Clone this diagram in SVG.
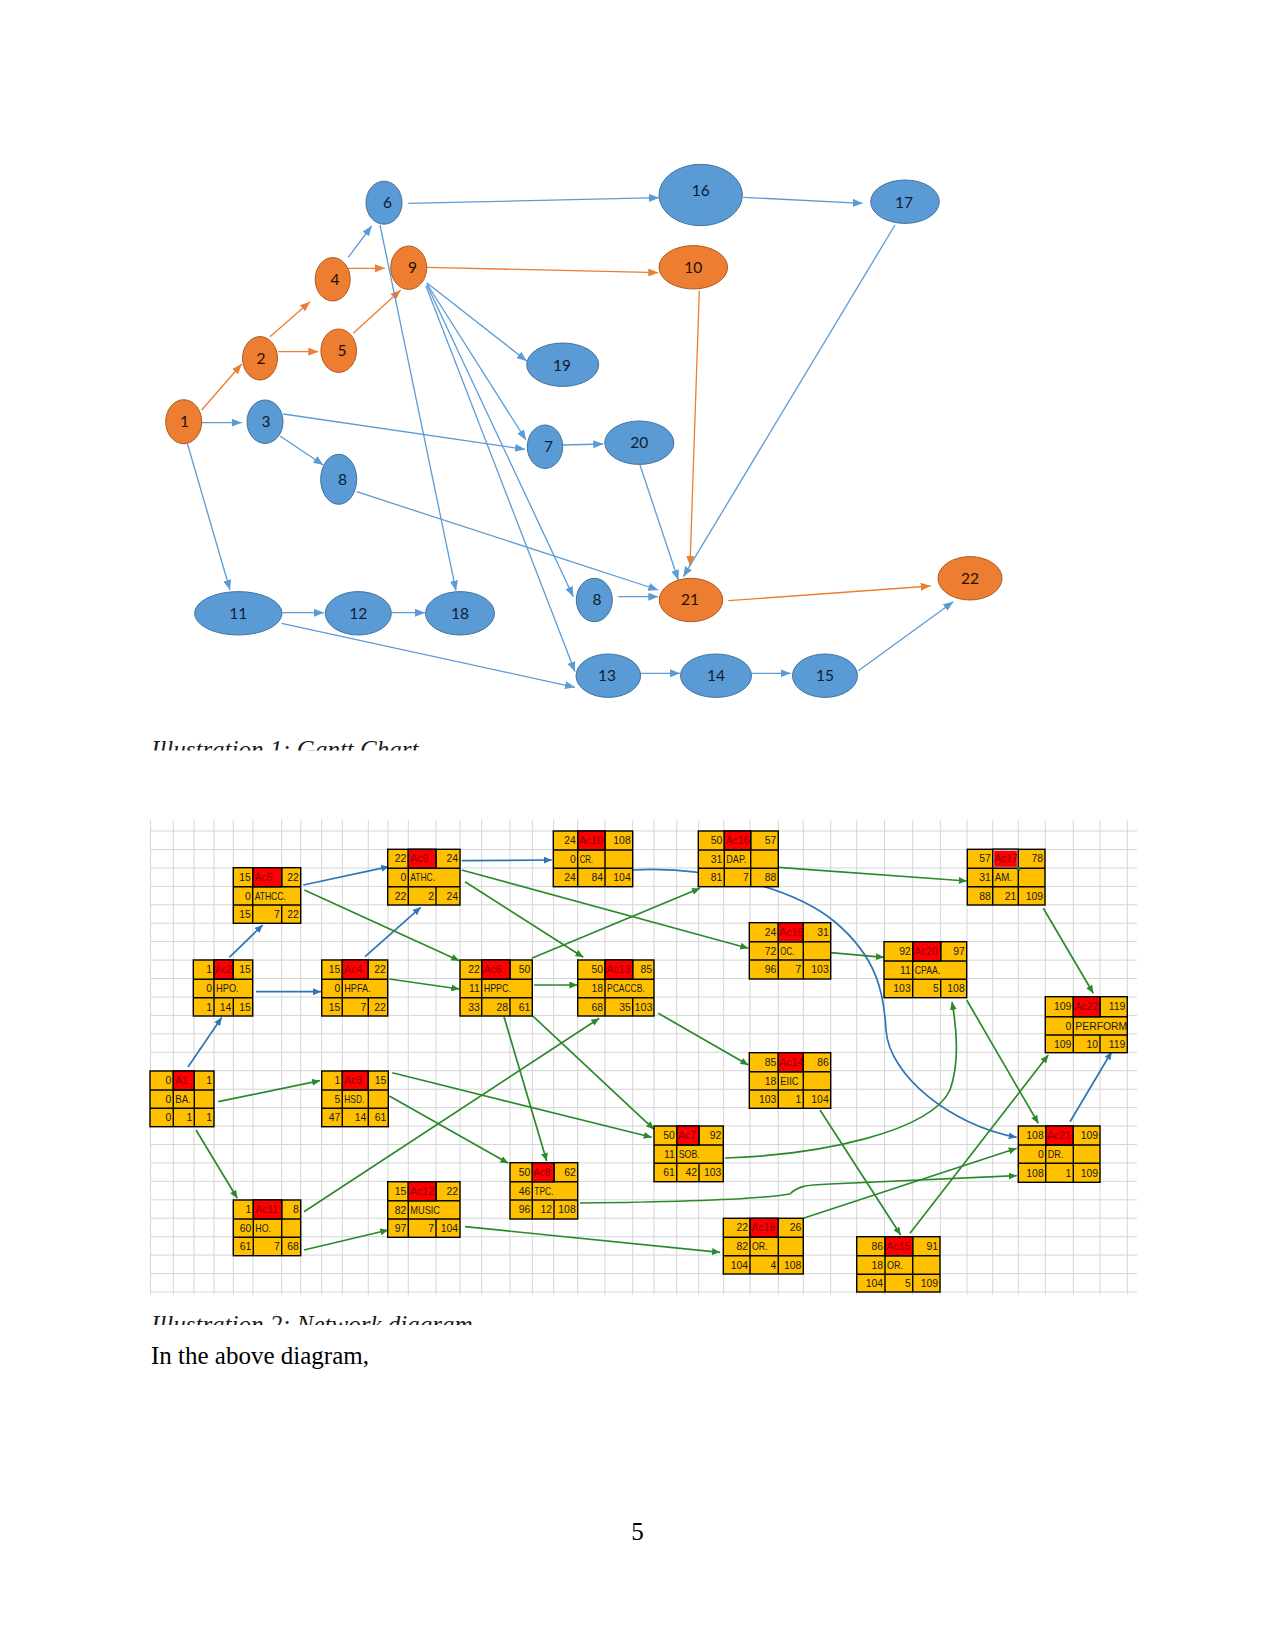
<svg xmlns="http://www.w3.org/2000/svg" width="1275" height="1651" viewBox="0 0 1275 1651">
<style>
.nb{fill:#5B9BD5;stroke:#41719C;stroke-width:1}
.no{fill:#ED7D31;stroke:#AE5A21;stroke-width:1}
.lb{font-family:Lato,"Liberation Sans",sans-serif;font-size:15.5px;text-anchor:middle;fill:#0e1c33}
.lo{font-family:Lato,"Liberation Sans",sans-serif;font-size:15.5px;text-anchor:middle;fill:#261003}
.eb{stroke:#5B9BD5;stroke-width:1.3;fill:none;marker-end:url(#ab)}
.eo{stroke:#ED7D31;stroke-width:1.3;fill:none;marker-end:url(#ao)}
.cg{stroke:#2A8A2A;stroke-width:1.7;fill:none;marker-end:url(#mg)}
.cb{stroke:#2E75B6;stroke-width:1.7;fill:none;marker-end:url(#mb)}
.bx{fill:#FFC000;stroke:#000;stroke-width:1.4}
.rd{fill:#FF0000;stroke:#000;stroke-width:1.4}
.gl{stroke:#000;stroke-width:1.4;fill:none}
.t{font-family:"Liberation Sans",Arial,sans-serif;font-size:10.4px;fill:#1a1a1a}
.r{text-anchor:end}
.a{fill:#8B0000}
.grid{stroke:#d6d6d6;stroke-width:1;fill:none}
.cap{font-family:"Liberation Serif","Times New Roman",serif;font-style:italic;font-size:25px;fill:#1a1a1a}
.body{font-family:"Liberation Serif","Times New Roman",serif;font-size:25px;fill:#000}
</style>
<defs>
<marker id="ab" markerUnits="userSpaceOnUse" markerWidth="10" markerHeight="8" refX="10" refY="4" orient="auto"><path d="M0,0L10,4L0,8z" fill="#5B9BD5"/></marker>
<marker id="ao" markerUnits="userSpaceOnUse" markerWidth="10" markerHeight="8" refX="10" refY="4" orient="auto"><path d="M0,0L10,4L0,8z" fill="#ED7D31"/></marker>
<marker id="mg" markerUnits="userSpaceOnUse" markerWidth="8" markerHeight="7" refX="8" refY="3.5" orient="auto"><path d="M0,0L8,3.5L0,7z" fill="#2A8A2A"/></marker>
<marker id="mb" markerUnits="userSpaceOnUse" markerWidth="8" markerHeight="7" refX="8" refY="3.5" orient="auto"><path d="M0,0L8,3.5L0,7z" fill="#2E75B6"/></marker>
<clipPath id="c1"><rect x="140" y="730" width="400" height="20.5"/></clipPath>
<clipPath id="c2"><rect x="140" y="1305" width="400" height="20"/></clipPath>
<clipPath id="cgrid"><rect x="150" y="820" width="987" height="475"/></clipPath>
</defs>
<rect width="1275" height="1651" fill="#fff"/>

<!-- ===== Illustration 1 ===== -->
<g id="top-connectors">
<path class="eo" d="M201.7,410L241.7,364"/>
<path class="eo" d="M270,336.7L310,301.7"/>
<path class="eo" d="M278.3,351.7L318.3,351.7"/>
<path class="eo" d="M348.3,268.3L385,268.3"/>
<path class="eo" d="M353.3,333.3L400.7,290"/>
<path class="eo" d="M426.7,267.3L658.3,272.7"/>
<path class="eo" d="M699.3,290.7L690,566"/>
<path class="eo" d="M728.3,600.7L930.7,586"/>
<path class="eb" d="M201.7,422.7L241.7,422.7"/>
<path class="eb" d="M348.3,257.3L371.7,226"/>
<path class="eb" d="M408.3,203.3L659,197.7"/>
<path class="eb" d="M743.3,197.3L862.7,203.3"/>
<path class="eb" d="M895,225L683.3,576.7"/>
<path class="eb" d="M380,225L456,590.7"/>
<path class="eb" d="M283.3,414L525,449.3"/>
<path class="eb" d="M280,436L323.3,465"/>
<path class="eb" d="M426.7,282.7L526.7,361"/>
<path class="eb" d="M427,284L526,440"/>
<path class="eb" d="M427,285L573.3,596.7"/>
<path class="eb" d="M426,286L575,671.7"/>
<path class="eb" d="M562.7,445L603.3,444"/>
<path class="eb" d="M640,465L678.3,580"/>
<path class="eb" d="M356.7,491.7L658.3,590"/>
<path class="eb" d="M618.3,596.7L658.3,596.7"/>
<path class="eb" d="M187.3,443.3L230,590"/>
<path class="eb" d="M282.3,612.7L324,612.7"/>
<path class="eb" d="M391.7,612.7L425,612.7"/>
<path class="eb" d="M281.7,623.3L575,687.3"/>
<path class="eb" d="M640.7,673.3L680,673.3"/>
<path class="eb" d="M751.7,673.3L790.7,673.3"/>
<path class="eb" d="M858.3,670.7L953.3,601.7"/>
</g>
<g id="n1"><ellipse class="no" cx="183.7" cy="421.7" rx="18" ry="22"/><text class="lo" x="184.5" y="427">1</text></g>
<g id="n2"><ellipse class="no" cx="260" cy="358.3" rx="17.5" ry="21.7"/><text class="lo" x="261" y="363.6">2</text></g>
<g id="n3"><ellipse class="nb" cx="265" cy="421.7" rx="18" ry="21.7"/><text class="lb" x="266" y="427">3</text></g>
<g id="n4"><ellipse class="no" cx="332.7" cy="279.3" rx="17.5" ry="21.7"/><text class="lo" x="335" y="284.6">4</text></g>
<g id="n5"><ellipse class="no" cx="338.7" cy="350.7" rx="17.8" ry="21.7"/><text class="lo" x="342" y="356">5</text></g>
<g id="n6"><ellipse class="nb" cx="384" cy="202.7" rx="18" ry="21.5"/><text class="lb" x="387.5" y="208">6</text></g>
<g id="n9"><ellipse class="no" cx="408.7" cy="267.7" rx="18" ry="21.7"/><text class="lo" x="412.5" y="273">9</text></g>
<g id="n19"><ellipse class="nb" cx="562.7" cy="364.7" rx="36" ry="21.7"/><text class="lb" x="562" y="370.5">19</text></g>
<g id="n7"><ellipse class="nb" cx="545" cy="446.7" rx="17.7" ry="21.7"/><text class="lb" x="548.5" y="452">7</text></g>
<g id="n8a"><ellipse class="nb" cx="338.7" cy="479.3" rx="18" ry="25"/><text class="lb" x="342.5" y="484.6">8</text></g>
<g id="n16"><ellipse class="nb" cx="700.7" cy="195" rx="41.7" ry="30.7"/><text class="lb" x="700.7" y="195.5">16</text></g>
<g id="n17"><ellipse class="nb" cx="905" cy="201.7" rx="34.3" ry="21.7"/><text class="lb" x="904" y="208">17</text></g>
<g id="n10"><ellipse class="no" cx="693.3" cy="267.3" rx="34.3" ry="21.7"/><text class="lo" x="693.3" y="272.6">10</text></g>
<g id="n20"><ellipse class="nb" cx="639.3" cy="442.7" rx="34.5" ry="21.7"/><text class="lb" x="639.3" y="448">20</text></g>
<g id="n11"><ellipse class="nb" cx="238.3" cy="613.3" rx="43.7" ry="21.7"/><text class="lb" x="238.3" y="618.6">11</text></g>
<g id="n12"><ellipse class="nb" cx="358.3" cy="613.3" rx="33" ry="21.7"/><text class="lb" x="358.3" y="618.6">12</text></g>
<g id="n18"><ellipse class="nb" cx="460" cy="613.3" rx="34.5" ry="21.7"/><text class="lb" x="460" y="618.6">18</text></g>
<g id="n8b"><ellipse class="nb" cx="594.3" cy="600" rx="18" ry="21.7"/><text class="lb" x="597" y="605.3">8</text></g>
<g id="n21"><ellipse class="no" cx="691" cy="600" rx="31.7" ry="21.7"/><text class="lo" x="690" y="605.3">21</text></g>
<g id="n22"><ellipse class="no" cx="970" cy="578.3" rx="32" ry="21.7"/><text class="lo" x="970" y="583.6">22</text></g>
<g id="n13"><ellipse class="nb" cx="608.3" cy="675.7" rx="32.3" ry="21.7"/><text class="lb" x="607" y="681">13</text></g>
<g id="n14"><ellipse class="nb" cx="716" cy="675.7" rx="35.5" ry="21.7"/><text class="lb" x="716" y="681">14</text></g>
<g id="n15"><ellipse class="nb" cx="825" cy="675.7" rx="32.5" ry="21.7"/><text class="lb" x="825" y="681">15</text></g>

<text class="cap" x="151" y="758" clip-path="url(#c1)">Illustration 1: Gantt Chart</text>

<!-- ===== Illustration 2 ===== -->
<g id="grid" clip-path="url(#cgrid)">
<path class="grid" d="M150.5,820V1295M173.3,820V1295M194,820V1295M214,820V1295M233.3,820V1295M253,820V1295M281.7,820V1295M300.7,820V1295M321.7,820V1295M342.3,820V1295M368.3,820V1295M388,820V1295M408.3,820V1295M436,820V1295M460,820V1295M481.7,820V1295M510,820V1295M532.3,820V1295M553.7,820V1295M577.7,820V1295M605,820V1295M632.7,820V1295M654,820V1295M676.7,820V1295M698.7,820V1295M723.7,820V1295M750,820V1295M778.3,820V1295M803.3,820V1295M830.7,820V1295M856.7,820V1295M884.5,820V1295M912.7,820V1295M940.3,820V1295M967,820V1295M992.7,820V1295M1018.3,820V1295M1045.3,820V1295M1073.3,820V1295M1100,820V1295M1127.3,820V1295"/>
<path class="grid" d="M150,831H1137M150,849.5H1137M150,867.9H1137M150,886.3H1137M150,904.8H1137M150,923.2H1137M150,941.6H1137M150,960.1H1137M150,978.5H1137M150,997H1137M150,1015.4H1137M150,1033.8H1137M150,1052.3H1137M150,1070.7H1137M150,1089.2H1137M150,1107.6H1137M150,1126H1137M150,1144.5H1137M150,1162.9H1137M150,1181.4H1137M150,1199.8H1137M150,1218.2H1137M150,1236.7H1137M150,1255.1H1137M150,1273.6H1137M150,1292H1137"/>
</g>

<g id="bottom-connectors">
<path class="cb" d="M188,1067L221.7,1017.5"/>
<path class="cb" d="M229.3,957.3L262.7,925"/>
<path class="cb" d="M256,991.7L321,991.7"/>
<path class="cb" d="M365,956.7L420.7,907.3"/>
<path class="cb" d="M303.3,885L389,866.7"/>
<path class="cb" d="M461.7,860.7L551.7,860"/>
<path class="cb" d="M633,870C700,866 790,885 835,922C878,958 884,995 886,1030C889,1075 950,1125 1016.7,1137.3"/>
<path class="cb" d="M1070,1121.7L1111.7,1051.7"/>
<path class="cg" d="M304.3,890L459.3,960.7"/>
<path class="cg" d="M389.3,979L459.3,989"/>
<path class="cg" d="M461.7,870L748.3,948.3"/>
<path class="cg" d="M465,881.7L583.3,957.3"/>
<path class="cg" d="M531.7,958.3L700,888.3"/>
<path class="cg" d="M534,985L577.3,985"/>
<path class="cg" d="M504,1016.7L546.7,1161"/>
<path class="cg" d="M531.7,1015L654,1129.3"/>
<path class="cg" d="M304,1211.7L599.3,1018.3"/>
<path class="cg" d="M658.3,1013.3L748.3,1065"/>
<path class="cg" d="M778.3,867.3L966.7,881"/>
<path class="cg" d="M830.7,952.7L884,957.3"/>
<path class="cg" d="M1043.3,908.3L1093.3,993.3"/>
<path class="cg" d="M966.7,1000L1038.3,1123.3"/>
<path class="cg" d="M725,1158C820,1155 930,1132 950,1090C960,1062 957,1030 952,1002"/>
<path class="cg" d="M580,1203C680,1202 760,1199 790,1194C798,1186 805,1185 830,1184L1016.7,1175.7"/>
<path class="cg" d="M803.3,1218.3L1016.7,1148.3"/>
<path class="cg" d="M910,1233.3L1048.3,1055"/>
<path class="cg" d="M820,1110L900.7,1235"/>
<path class="cg" d="M218.3,1101.7L320,1080.7"/>
<path class="cg" d="M196,1130L237.3,1198.3"/>
<path class="cg" d="M304,1250L388.3,1230"/>
<path class="cg" d="M392.3,1072.7L651.7,1137.3"/>
<path class="cg" d="M389.3,1096L508.3,1163.3"/>
<path class="cg" d="M465,1226.7L720,1252.3"/>
</g>

<g id="a1">
<rect class="bx" x="150" y="1071" width="64" height="55.7"/><rect class="rd" x="173.3" y="1071" width="21" height="19"/>
<path class="gl" d="M150,1090H214M150,1108.3H214M173.3,1071V1126.7M194.3,1071V1126.7"/>
<text class="t r" x="171.3" y="1084">0</text><text class="t a" x="175.3" y="1084">A1</text><text class="t r" x="212" y="1084">1</text>
<text class="t r" x="171.3" y="1103">0</text><text class="t" x="175.3" y="1103" textLength="15.7" lengthAdjust="spacingAndGlyphs">BA.</text>
<text class="t r" x="171.3" y="1121.3">0</text><text class="t r" x="192.3" y="1121.3">1</text><text class="t r" x="212" y="1121.3">1</text>
</g>
<g id="ac2">
<rect class="bx" x="193.3" y="960" width="59.4" height="56"/><rect class="rd" x="214" y="960" width="19.3" height="19.3"/>
<path class="gl" d="M193.3,979.3H252.7M193.3,997.7H252.7M214,960V1016M233.3,960V979.3M233.3,997.7V1016"/>
<text class="t r" x="212" y="973">1</text><text class="t a" x="215.5" y="973" textLength="16" lengthAdjust="spacingAndGlyphs">Ac2</text><text class="t r" x="250.7" y="973">15</text>
<text class="t r" x="212" y="992.3">0</text><text class="t" x="216" y="992.3" textLength="22.7" lengthAdjust="spacingAndGlyphs">HPO.</text>
<text class="t r" x="212" y="1010.7">1</text><text class="t r" x="231.3" y="1010.7">14</text><text class="t r" x="250.7" y="1010.7">15</text>
</g>
<g id="ac5">
<rect class="bx" x="233.3" y="867.7" width="67.4" height="55.6"/><rect class="rd" x="252.7" y="867.7" width="29" height="19"/>
<path class="gl" d="M233.3,886.7H300.7M233.3,905H300.7M252.7,867.7V923.3M281.7,867.7V886.7M281.7,905V923.3"/>
<text class="t r" x="250.7" y="880.7">15</text><text class="t a" x="254.7" y="880.7">Ac5</text><text class="t r" x="298.7" y="880.7">22</text>
<text class="t r" x="250.7" y="899.7">0</text><text class="t" x="254.7" y="899.7" textLength="31" lengthAdjust="spacingAndGlyphs">ATHCC.</text>
<text class="t r" x="250.7" y="918">15</text><text class="t r" x="279.7" y="918">7</text><text class="t r" x="298.7" y="918">22</text>
</g>
<g id="ac4">
<rect class="bx" x="321.7" y="960" width="66" height="56"/><rect class="rd" x="342.3" y="960" width="26" height="19.3"/>
<path class="gl" d="M321.7,979.3H387.7M321.7,997.7H387.7M342.3,960V1016M368.3,960V979.3M368.3,997.7V1016"/>
<text class="t r" x="340.3" y="973">15</text><text class="t a" x="344.3" y="973">Ac4</text><text class="t r" x="385.7" y="973">22</text>
<text class="t r" x="340.3" y="992.3">0</text><text class="t" x="344.3" y="992.3" textLength="26.3" lengthAdjust="spacingAndGlyphs">HPFA.</text>
<text class="t r" x="340.3" y="1010.7">15</text><text class="t r" x="366.3" y="1010.7">7</text><text class="t r" x="385.7" y="1010.7">22</text>
</g>
<g id="ac9">
<rect class="bx" x="387.7" y="849.3" width="72.3" height="55.7"/><rect class="rd" x="408.3" y="849.3" width="27.7" height="19"/>
<path class="gl" d="M387.7,868.3H460M387.7,886.7H460M408.3,849.3V905M436,849.3V868.3M436,886.7V905"/>
<text class="t r" x="406.3" y="862.3">22</text><text class="t a" x="410.3" y="862.3">Ac9</text><text class="t r" x="458" y="862.3">24</text>
<text class="t r" x="406.3" y="881.3">0</text><text class="t" x="410.3" y="881.3" textLength="24.7" lengthAdjust="spacingAndGlyphs">ATHC.</text>
<text class="t r" x="406.3" y="899.7">22</text><text class="t r" x="434" y="899.7">2</text><text class="t r" x="458" y="899.7">24</text>
</g>
<g id="ac3">
<rect class="bx" x="321.7" y="1071" width="66.6" height="55.7"/><rect class="rd" x="342.3" y="1071" width="26" height="19"/>
<path class="gl" d="M321.7,1090H388.3M321.7,1108.3H388.3M342.3,1071V1126.7M368.3,1071V1126.7"/>
<text class="t r" x="340.3" y="1084">1</text><text class="t a" x="344.3" y="1084">Ac3</text><text class="t r" x="386.3" y="1084">15</text>
<text class="t r" x="340.3" y="1103">5</text><text class="t" x="344.3" y="1103" textLength="20" lengthAdjust="spacingAndGlyphs">HSD.</text>
<text class="t r" x="340.3" y="1121.3">47</text><text class="t r" x="366.3" y="1121.3">14</text><text class="t r" x="386.3" y="1121.3">61</text>
</g>
<g id="ac11">
<rect class="bx" x="233.3" y="1200" width="67.4" height="55.7"/><rect class="rd" x="253.3" y="1200" width="28.4" height="19"/>
<path class="gl" d="M233.3,1219H300.7M233.3,1237.3H300.7M253.3,1200V1255.7M281.7,1200V1255.7"/>
<text class="t r" x="251.3" y="1213">1</text><text class="t a" x="255.3" y="1213">Ac11</text><text class="t r" x="298.7" y="1213">8</text>
<text class="t r" x="251.3" y="1232">60</text><text class="t" x="255.3" y="1232" textLength="15.7" lengthAdjust="spacingAndGlyphs">HO.</text>
<text class="t r" x="251.3" y="1250.3">61</text><text class="t r" x="279.7" y="1250.3">7</text><text class="t r" x="298.7" y="1250.3">68</text>
</g>
<g id="ac12">
<rect class="bx" x="387.7" y="1181.7" width="72.3" height="55.6"/><rect class="rd" x="408.3" y="1181.7" width="27.7" height="19"/>
<path class="gl" d="M387.7,1200.7H460M387.7,1219H460M408.3,1181.7V1237.3M436,1181.7V1200.7M436,1219V1237.3"/>
<text class="t r" x="406.3" y="1194.7">15</text><text class="t a" x="410.3" y="1194.7">Ac12</text><text class="t r" x="458" y="1194.7">22</text>
<text class="t r" x="406.3" y="1213.7">82</text><text class="t" x="410.3" y="1213.7" textLength="29.7" lengthAdjust="spacingAndGlyphs">MUSIC</text>
<text class="t r" x="406.3" y="1232">97</text><text class="t r" x="434" y="1232">7</text><text class="t r" x="458" y="1232">104</text>
</g>
<g id="ac6">
<rect class="bx" x="460" y="960" width="72.3" height="56"/><rect class="rd" x="481.7" y="960" width="28.3" height="19.3"/>
<path class="gl" d="M460,979.3H532.3M460,997.7H532.3M481.7,960V1016M510,960V979.3M510,997.7V1016"/>
<text class="t r" x="479.7" y="973">22</text><text class="t a" x="483.7" y="973">Ac6</text><text class="t r" x="530.3" y="973">50</text>
<text class="t r" x="479.7" y="992.3">11</text><text class="t" x="483.7" y="992.3" textLength="27.3" lengthAdjust="spacingAndGlyphs">HPPC.</text>
<text class="t r" x="479.7" y="1010.7">33</text><text class="t r" x="508" y="1010.7">28</text><text class="t r" x="530.3" y="1010.7">61</text>
</g>
<g id="ac10">
<rect class="bx" x="553.3" y="831" width="79.4" height="55.7"/><rect class="rd" x="577.7" y="831" width="27.3" height="19"/>
<path class="gl" d="M553.3,850H632.7M553.3,868.3H632.7M577.7,831V886.7M605,831V886.7"/>
<text class="t r" x="575.7" y="844">24</text><text class="t a" x="579" y="844">Ac10</text><text class="t r" x="630.7" y="844">108</text>
<text class="t r" x="575.7" y="863">0</text><text class="t" x="579.7" y="863" textLength="13.3" lengthAdjust="spacingAndGlyphs">CR.</text>
<text class="t r" x="575.7" y="881.3">24</text><text class="t r" x="603" y="881.3">84</text><text class="t r" x="630.7" y="881.3">104</text>
</g>
<g id="ac13">
<rect class="bx" x="577.7" y="960" width="76.3" height="56"/><rect class="rd" x="605" y="960" width="27.7" height="19.3"/>
<path class="gl" d="M577.7,979.3H654M577.7,997.7H654M605,960V1016M632.7,960V979.3M632.7,997.7V1016"/>
<text class="t r" x="603" y="973">50</text><text class="t a" x="606.5" y="973">Ac13</text><text class="t r" x="652" y="973">85</text>
<text class="t r" x="603" y="992.3">18</text><text class="t" x="607" y="992.3" textLength="37.7" lengthAdjust="spacingAndGlyphs">PCACCB.</text>
<text class="t r" x="603" y="1010.7">68</text><text class="t r" x="630.7" y="1010.7">35</text><text class="t r" x="652.5" y="1010.7" textLength="18" lengthAdjust="spacingAndGlyphs">103</text>
</g>
<g id="ac8">
<rect class="bx" x="510" y="1162.7" width="67.7" height="56.3"/><rect class="rd" x="532.3" y="1162.7" width="21.7" height="19"/>
<path class="gl" d="M510,1181.7H577.7M510,1200H577.7M532.3,1162.7V1219M554,1162.7V1181.7M554,1200V1219"/>
<text class="t r" x="530.3" y="1175.7">50</text><text class="t a" x="533.5" y="1175.7" textLength="17" lengthAdjust="spacingAndGlyphs">Ac8</text><text class="t r" x="575.7" y="1175.7">62</text>
<text class="t r" x="530.3" y="1194.7">46</text><text class="t" x="534.3" y="1194.7" textLength="19" lengthAdjust="spacingAndGlyphs">TPC.</text>
<text class="t r" x="530.3" y="1213">96</text><text class="t r" x="552" y="1213">12</text><text class="t r" x="575.7" y="1213">108</text>
</g>
<g id="ac7">
<rect class="bx" x="654" y="1126" width="69.3" height="55.7"/><rect class="rd" x="676.7" y="1126" width="22.3" height="19"/>
<path class="gl" d="M654,1145H723.3M654,1163.3H723.3M676.7,1126V1181.7M699,1126V1145M699,1163.3V1181.7"/>
<text class="t r" x="674.7" y="1139">50</text><text class="t a" x="678" y="1139" textLength="18" lengthAdjust="spacingAndGlyphs">Ac7</text><text class="t r" x="721.3" y="1139">92</text>
<text class="t r" x="674.7" y="1158">11</text><text class="t" x="678.7" y="1158" textLength="21" lengthAdjust="spacingAndGlyphs">SOB.</text>
<text class="t r" x="674.7" y="1176.3">61</text><text class="t r" x="697" y="1176.3">42</text><text class="t r" x="721.3" y="1176.3">103</text>
</g>
<g id="ac16">
<rect class="bx" x="698.3" y="831" width="80" height="55.7"/><rect class="rd" x="724.3" y="831" width="26.4" height="19"/>
<path class="gl" d="M698.3,850H778.3M698.3,868.3H778.3M724.3,831V886.7M750.7,831V886.7"/>
<text class="t r" x="722.3" y="844">50</text><text class="t a" x="725.8" y="844">Ac16</text><text class="t r" x="776.3" y="844">57</text>
<text class="t r" x="722.3" y="863">31</text><text class="t" x="726.3" y="863" textLength="20" lengthAdjust="spacingAndGlyphs">DAP.</text>
<text class="t r" x="722.3" y="881.3">81</text><text class="t r" x="748.7" y="881.3">7</text><text class="t r" x="776.3" y="881.3">88</text>
</g>
<g id="ac19">
<rect class="bx" x="749.3" y="922.7" width="81.4" height="56.3"/><rect class="rd" x="778.3" y="922.7" width="25" height="19"/>
<path class="gl" d="M749.3,941.7H830.7M749.3,960H830.7M778.3,922.7V979M803.3,922.7V979"/>
<text class="t r" x="776.3" y="935.7">24</text><text class="t a" x="779.5" y="935.7">Ac19</text><text class="t r" x="828.7" y="935.7">31</text>
<text class="t r" x="776.3" y="954.7">72</text><text class="t" x="780.3" y="954.7" textLength="14" lengthAdjust="spacingAndGlyphs">OC.</text>
<text class="t r" x="776.3" y="973">96</text><text class="t r" x="801.3" y="973">7</text><text class="t r" x="828.7" y="973">103</text>
</g>
<g id="ac14">
<rect class="bx" x="749.3" y="1052.7" width="81.4" height="55.6"/><rect class="rd" x="778.3" y="1052.7" width="25" height="19"/>
<path class="gl" d="M749.3,1071.7H830.7M749.3,1090H830.7M778.3,1052.7V1108.3M803.3,1052.7V1108.3"/>
<text class="t r" x="776.3" y="1065.7">85</text><text class="t a" x="779.5" y="1065.7">Ac14</text><text class="t r" x="828.7" y="1065.7">86</text>
<text class="t r" x="776.3" y="1084.7">18</text><text class="t" x="780.3" y="1084.7" textLength="18.3" lengthAdjust="spacingAndGlyphs">EIIC</text>
<text class="t r" x="776.3" y="1103">103</text><text class="t r" x="801.3" y="1103">1</text><text class="t r" x="828.7" y="1103">104</text>
</g>
<g id="ac18">
<rect class="bx" x="723.3" y="1218.3" width="80" height="55.7"/><rect class="rd" x="750" y="1218.3" width="28.3" height="19"/>
<path class="gl" d="M723.3,1237.3H803.3M723.3,1255.7H803.3M750,1218.3V1274M778.3,1218.3V1274"/>
<text class="t r" x="748" y="1231.3">22</text><text class="t a" x="751.5" y="1231.3">Ac18</text><text class="t r" x="801.3" y="1231.3">26</text>
<text class="t r" x="748" y="1250.3">82</text><text class="t" x="752" y="1250.3" textLength="15.7" lengthAdjust="spacingAndGlyphs">OR.</text>
<text class="t r" x="748" y="1268.7">104</text><text class="t r" x="776.3" y="1268.7">4</text><text class="t r" x="801.3" y="1268.7">108</text>
</g>
<g id="ac20">
<rect class="bx" x="884" y="941.7" width="82.7" height="56"/><rect class="rd" x="912.7" y="941.7" width="28" height="19.3"/>
<path class="gl" d="M884,961H966.7M884,979.3H966.7M912.7,941.7V997.7M940.7,941.7V961M940.7,979.3V997.7"/>
<text class="t r" x="910.7" y="954.7">92</text><text class="t a" x="914.2" y="954.7">Ac20</text><text class="t r" x="964.7" y="954.7">97</text>
<text class="t r" x="910.7" y="974">11</text><text class="t" x="914.7" y="974" textLength="25.7" lengthAdjust="spacingAndGlyphs">CPAA.</text>
<text class="t r" x="910.7" y="992.3">103</text><text class="t r" x="938.7" y="992.3">5</text><text class="t r" x="964.7" y="992.3">108</text>
</g>
<g id="ac15">
<rect class="bx" x="856.7" y="1236.7" width="83.3" height="55.3"/><rect class="rd" x="885" y="1236.7" width="27.7" height="19"/>
<path class="gl" d="M856.7,1255.7H940M856.7,1274.3H940M885,1236.7V1292M912.7,1236.7V1292"/>
<text class="t r" x="883" y="1249.7">86</text><text class="t a" x="886.5" y="1249.7">Ac15</text><text class="t r" x="938" y="1249.7">91</text>
<text class="t r" x="883" y="1268.7">18</text><text class="t" x="887" y="1268.7" textLength="16" lengthAdjust="spacingAndGlyphs">OR.</text>
<text class="t r" x="883" y="1287">104</text><text class="t r" x="910.7" y="1287">5</text><text class="t r" x="938" y="1287">109</text>
</g>
<g id="ac17">
<rect class="bx" x="967.3" y="849.3" width="77.7" height="55.7"/><rect class="rd" x="992.7" y="849.3" width="25.6" height="19"/>
<rect x="993.7" y="850.3" width="23.6" height="17" fill="none" stroke="#d8d8d8" stroke-width="1"/>
<path class="gl" d="M967.3,868.3H1045M967.3,886.7H1045M992.7,849.3V905M1018.3,849.3V905"/>
<rect x="1017" y="867" width="3.5" height="3.5" fill="#217346"/>
<text class="t r" x="990.7" y="862.3">57</text><text class="t a" x="994.2" y="862.3">Ac17</text><text class="t r" x="1043" y="862.3">78</text>
<text class="t r" x="990.7" y="881.3">31</text><text class="t" x="994.7" y="881.3" textLength="17.3" lengthAdjust="spacingAndGlyphs">AM.</text>
<text class="t r" x="990.7" y="899.7">88</text><text class="t r" x="1016.3" y="899.7">21</text><text class="t r" x="1043" y="899.7">109</text>
</g>
<g id="ac21">
<rect class="bx" x="1018.3" y="1126" width="81.7" height="56.3"/><rect class="rd" x="1045.7" y="1126" width="27.6" height="19"/>
<path class="gl" d="M1018.3,1145H1100M1018.3,1163.3H1100M1045.7,1126V1182.3M1073.3,1126V1182.3"/>
<text class="t r" x="1043.7" y="1139">108</text><text class="t a" x="1047.2" y="1139">Ac21</text><text class="t r" x="1098" y="1139">109</text>
<text class="t r" x="1043.7" y="1158">0</text><text class="t" x="1047.7" y="1158" textLength="15.7" lengthAdjust="spacingAndGlyphs">DR.</text>
<text class="t r" x="1043.7" y="1176.5">108</text><text class="t r" x="1071.3" y="1176.5">1</text><text class="t r" x="1098" y="1176.5">109</text>
</g>
<g id="ac22">
<rect class="bx" x="1045.3" y="996.7" width="82" height="56"/><rect class="rd" x="1073.3" y="996.7" width="26.7" height="20"/>
<path class="gl" d="M1045.3,1016.7H1127.3M1045.3,1035H1127.3M1073.3,996.7V1052.7M1100,996.7V1016.7M1100,1035V1052.7"/>
<text class="t r" x="1071.3" y="1010.2">109</text><text class="t a" x="1074.8" y="1010.2">Ac22</text><text class="t r" x="1125.3" y="1010.2">119</text>
<text class="t r" x="1071.3" y="1029.7">0</text><text class="t" x="1075.3" y="1029.7" textLength="52" lengthAdjust="spacingAndGlyphs">PERFORM</text>
<text class="t r" x="1071.3" y="1047.7">109</text><text class="t r" x="1098" y="1047.7">10</text><text class="t r" x="1125.3" y="1047.7">119</text>
</g>

<text class="cap" x="151" y="1333" clip-path="url(#c2)">Illustration 2: Network diagram</text>
<text class="body" x="151" y="1363.5">In the above diagram,</text>
<text class="body" x="637.5" y="1540" text-anchor="middle">5</text>
</svg>
